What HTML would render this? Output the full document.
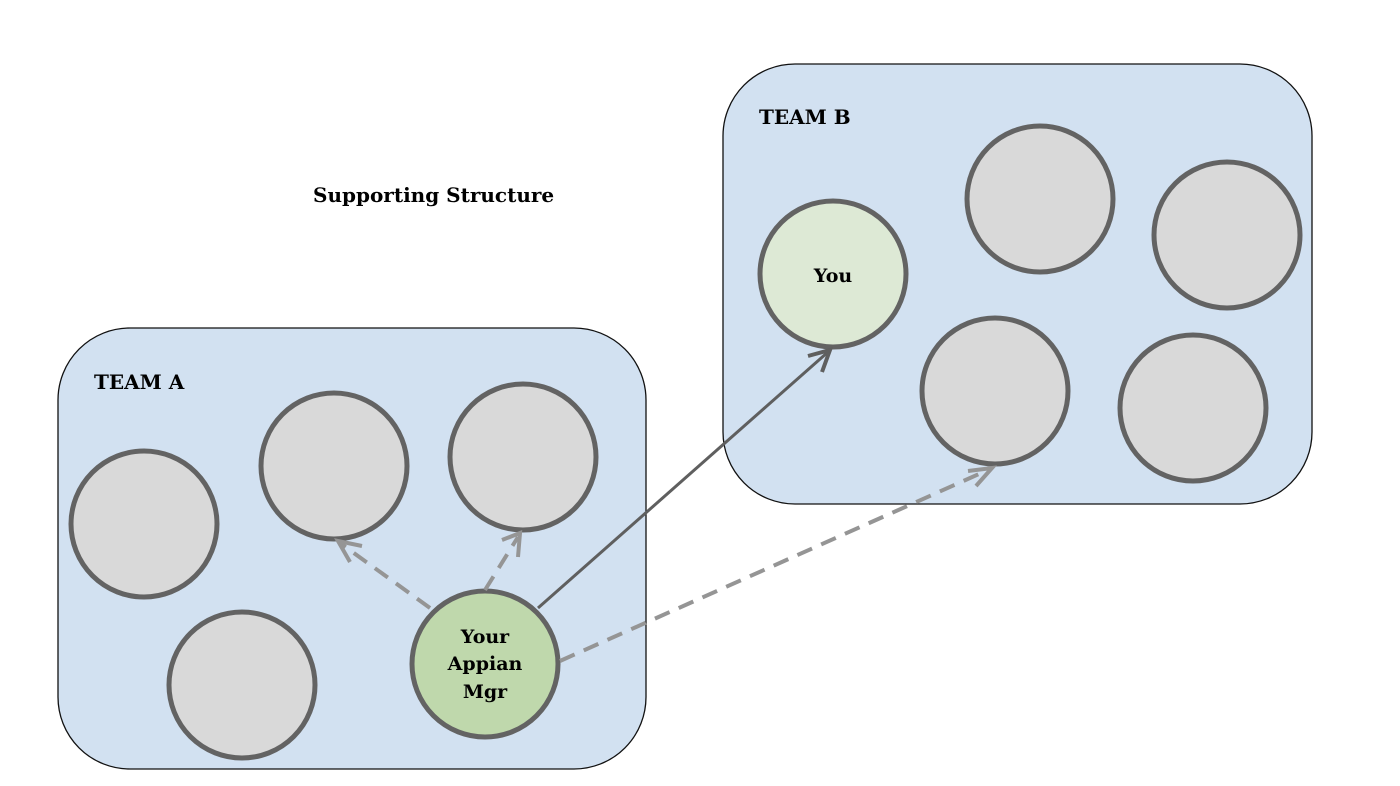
<!DOCTYPE html>
<html><head><meta charset="utf-8"><style>
html,body{margin:0;padding:0;background:#fff;}
svg{display:block;}
text{font-family:"DejaVu Serif","Liberation Serif",serif;font-weight:bold;fill:#000;}
</style></head><body>
<svg width="1400" height="786" viewBox="0 0 1400 786">
<rect x="58" y="328" width="588" height="441" rx="72" fill="#d2e1f1" stroke="#111" stroke-width="1.3"/>
<rect x="723" y="64" width="589" height="440" rx="72" fill="#d2e1f1" stroke="#111" stroke-width="1.3"/>
<text x="94" y="389" font-size="20">TEAM A</text>
<text x="759" y="124" font-size="20">TEAM B</text>
<text x="313" y="202" font-size="20" font-weight="normal" style="font-weight:600">Supporting Structure</text>
<g stroke="#636363" stroke-width="5" fill="#d9d9d9">
<circle cx="144" cy="524" r="73"/>
<circle cx="334" cy="466" r="73"/>
<circle cx="523" cy="457" r="73"/>
<circle cx="242" cy="685" r="73"/>
<circle cx="1040" cy="199" r="73"/>
<circle cx="1227" cy="235" r="73"/>
<circle cx="995" cy="391" r="73"/>
<circle cx="1193" cy="408" r="73"/>
<circle cx="833" cy="274" r="73" fill="#dde9d5"/>
<circle cx="485" cy="664" r="73" fill="#bfd8ac"/>
</g>
<!-- connectors -->
<line x1="538" y1="608" x2="828" y2="352" stroke="#5f5f5f" stroke-width="3"/>
<polyline points="808,356 830,350 822,372" fill="none" stroke="#5f5f5f" stroke-width="4"/>
<g stroke="#959595" stroke-width="4" fill="none" stroke-dasharray="16,10">
<line x1="430" y1="608" x2="340" y2="543"/>
<line x1="485" y1="590" x2="518" y2="537"/>
<line x1="560" y1="661" x2="988" y2="470"/>
</g>
<g stroke="#959595" stroke-width="4" fill="none">
<polyline points="362,546 338,541 350,562"/>
<polyline points="502,540 520,533 518,557"/>
<polyline points="968,471 992,468 976,486"/>
</g>
<text x="485" y="643" font-size="19" text-anchor="middle">Your</text>
<text x="485" y="670" font-size="19" text-anchor="middle">Appian</text>
<text x="485" y="698" font-size="19" text-anchor="middle">Mgr</text>
<text x="833" y="282" font-size="19" text-anchor="middle">You</text>
</svg>
</body></html>
